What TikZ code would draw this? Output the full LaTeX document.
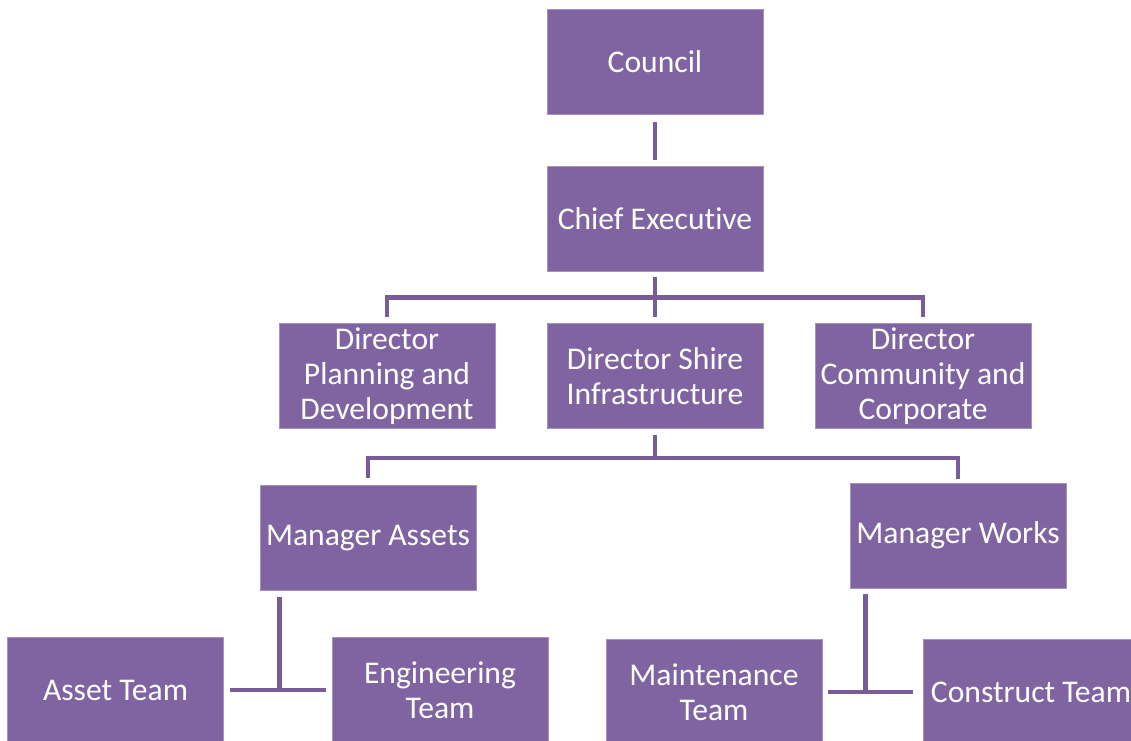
\documentclass[tikz,border=0pt]{standalone}
\usepackage{fontspec}
\setmainfont{Carlito}[RawFeature={-liga;-clig;-dlig}]
\usetikzlibrary{calc}
\definecolor{boxc}{HTML}{8064A2}
\definecolor{linec}{HTML}{785C9A}
\tikzset{
  orgbox/.style={fill=boxc, draw=boxc!70!white, line width=0.6pt, minimum width=216pt, minimum height=105pt, inner sep=0pt, align=center, text=white, font=\fontsize{31.6}{35}\selectfont},
  conn/.style={draw=linec, line width=4.5pt}
}
\begin{document}
\begin{tikzpicture}[x=1pt,y=-1pt]
\useasboundingbox (0,0) rectangle (1131,740);
\node[orgbox] (council) at (655,62) {Council};
\node[orgbox] (ce) at (655,218.5) {Chief Executive};
\node[orgbox] (dp) at (387,376) {Director\\Planning and\\Development};
\node[orgbox] (ds) at (655,376) {Director Shire\\Infrastructure};
\node[orgbox] (dc) at (923,376) {Director\\Community and\\Corporate};
\node[orgbox] (ma) at (368,538) {Manager Assets};
\node[orgbox] (mw) at (958,535.5) {Manager Works};
\node[orgbox] (at) at (115.5,690) {Asset Team};
\node[orgbox] (et) at (440,690) {Engineering\\Team};
\node[orgbox] (mt) at (714,692) {Maintenance\\Team};
\node[orgbox] (ct) at (1031,692) {Construct Team};
% Council - Chief Executive
\draw[conn] ([yshift=-7pt]council.south) -- ([yshift=6pt]ce.north);
% Chief Executive - directors
\coordinate (busA) at ($(ce.south)!0.5!(ds.north)$);
\draw[conn] ([yshift=-6pt]ce.south) -- ([yshift=6pt]ds.north);
\draw[conn] ([yshift=6pt]dp.north) |- (busA) -| ([yshift=6pt]dc.north);
% Director Shire - managers
\coordinate (busB) at ([yshift=-29pt]ds.south);
\draw[conn] ([yshift=-6pt]ds.south) -- (busB);
\draw[conn] ([yshift=7pt]ma.north) |- (busB) -| ([yshift=4pt]mw.north);
% Manager Assets - teams
\coordinate (maT) at ([shift={(20pt,-6pt)}]ma.south west);
\draw[conn] ([xshift=6pt]at.east) -- ([xshift=-6pt]et.west);
\draw[conn] (maT) -- (maT |- at.east);
% Manager Works - teams
\coordinate (mwT) at ([shift={(16pt,-6pt)}]mw.south west);
\draw[conn] ([xshift=6pt]mt.east) -- ([xshift=-10pt]ct.west);
\draw[conn] (mwT) -- (mwT |- mt.east);
\end{tikzpicture}
\end{document}
